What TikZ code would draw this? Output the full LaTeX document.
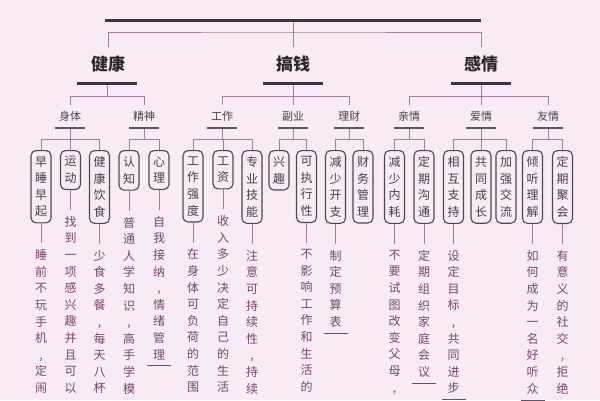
\documentclass[tikz,border=0pt]{standalone}
\usepackage{fontspec}
\setmainfont{Noto Sans CJK SC}
\usetikzlibrary{calc}
\definecolor{bgc}{HTML}{F8EBF6}
\definecolor{connc}{HTML}{A27E9E}
\definecolor{barc}{HTML}{3F3446}
\definecolor{lbarc}{HTML}{5E5560}
\definecolor{boxc}{HTML}{4D4652}
\definecolor{headc}{HTML}{2E2630}
\definecolor{catc}{HTML}{4A3D4C}
\definecolor{boxtc}{HTML}{4A3D4D}
\definecolor{coltc}{HTML}{7A4473}
\tikzset{
  conn/.style={draw=connc, line width=0.9pt},
  topbar/.style={fill=barc, minimum width=376pt, minimum height=3pt, inner sep=0pt},
  headbar/.style={fill=barc, minimum width=60pt, minimum height=3pt, inner sep=0pt},
  catbar/.style={fill=lbarc, minimum width=30pt, minimum height=1.2pt, inner sep=0pt},
  endline/.style={draw=lbarc, line width=1pt},
  heading/.style={font=\fontsize{17}{20}\selectfont\bfseries, text=headc, inner xsep=1pt, inner ysep=9pt},
  cat/.style={font=\fontsize{11}{13}\selectfont, text=catc, inner xsep=1pt, inner ysep=6pt},
  vbox/.style={draw=boxc, line width=1.1pt, rounded corners=5pt, minimum width=20pt, inner xsep=0pt, inner ysep=6pt, align=center, font=\fontsize{12}{16.6}\selectfont, text=boxtc, anchor=north},
  vtext/.style={align=center, font=\fontsize{12}{16.6}\selectfont, text=coltc, inner xsep=0pt, inner ysep=6pt, anchor=north}
}
\begin{document}
\begin{tikzpicture}[x=1pt,y=-1pt]
\fill[bgc] (0,0) rectangle (600,400);
\useasboundingbox (0,0) rectangle (600,400);
\clip (0,0) rectangle (600,400);
% top
\node[topbar] (tb) at (293,20) {};
\node[heading] (h1) at (108,64) {健康};
\node[heading] (h2) at (293,64) {搞钱};
\node[heading] (h3) at (481,64) {感情};
\coordinate (tj) at (293,32);
\draw[conn] (tb.south) -- (h2.north);
\draw[conn] (h1.north) |- (tj) -| (h3.north);
% heading bars
\node[headbar] (hb1) at (107,83) {};
\node[headbar] (hb2) at (293,83) {};
\node[headbar] (hb3) at (481,83) {};
% categories
\node[cat] (c1) at (70,116) {身体};
\node[cat] (c2) at (144,116) {精神};
\node[cat] (c3) at (222,116) {工作};
\node[cat] (c4) at (293,116) {副业};
\node[cat] (c5) at (349,116) {理财};
\node[cat] (c6) at (409,116) {亲情};
\node[cat] (c7) at (481,116) {爱情};
\node[cat] (c8) at (548,116) {友情};
\draw[conn] (hb1.south) -- ++(0,11.5) coordinate (j1);
\draw[conn] (c1.north) |- (j1) -| (c2.north);
\draw[conn] (hb2.south) -- ++(0,11.5) coordinate (j2);
\draw[conn] (c3.north) |- (j2) -| (c5.north);
\draw[conn] (j2) -- (c4.north);
\draw[conn] (hb3.south) -- ++(0,11.5) coordinate (j3);
\draw[conn] (c6.north) |- (j3) -| (c8.north);
\draw[conn] (j3) -- (c7.north);
% category bars
\node[catbar] (cb1) at (70,128) {};
\node[catbar] (cb2) at (144,128) {};
\node[catbar] (cb3) at (222,128) {};
\node[catbar] (cb4) at (293,128) {};
\node[catbar] (cb5) at (349,128) {};
\node[catbar] (cb6) at (409,128) {};
\node[catbar] (cb7) at (481,128) {};
\node[catbar] (cb8) at (548,128) {};
% boxes
\node[vbox] (b1) at (41,150) {早\\睡\\早\\起};
\node[vbox] (b2) at (70.5,150) {运\\动};
\node[vbox] (b3) at (99.5,150) {健\\康\\饮\\食};
\node[vbox] (b4) at (129,150) {认\\知};
\node[vbox] (b5) at (159,150) {心\\理};
\node[vbox] (b6) at (193,150) {工\\作\\强\\度};
\node[vbox] (b7) at (223,150) {工\\资};
\node[vbox] (b8) at (252,150) {专\\业\\技\\能};
\node[vbox] (b9) at (279,150) {兴\\趣};
\node[vbox] (b10) at (306.5,150) {可\\执\\行\\性};
\node[vbox] (b11) at (335.5,150) {减\\少\\开\\支};
\node[vbox] (b12) at (363,150) {财\\务\\管\\理};
\node[vbox] (b13) at (394.5,150) {减\\少\\内\\耗};
\node[vbox] (b14) at (424,150) {定\\期\\沟\\通};
\node[vbox] (b15) at (453.5,150) {相\\互\\支\\持};
\node[vbox] (b16) at (481,150) {共\\同\\成\\长};
\node[vbox] (b17) at (506,150) {加\\强\\交\\流};
\node[vbox] (b18) at (532.5,150) {倾\\听\\理\\解};
\node[vbox] (b19) at (562.5,150) {定\\期\\聚\\会};
% category -> boxes
\draw[conn] (cb1.south) -- ++(0,10.5) coordinate (k1);
\draw[conn] (b1.north) |- (k1) -| (b3.north);
\draw[conn] (k1 -| b2.north) -- (b2.north);
\draw[conn] (cb2.south) -- ++(0,10.5) coordinate (k2);
\draw[conn] (b4.north) |- (k2) -| (b5.north);
\draw[conn] (cb3.south) -- ++(0,10.5) coordinate (k3);
\draw[conn] (b6.north) |- (k3) -| (b8.north);
\draw[conn] (k3 -| b7.north) -- (b7.north);
\draw[conn] (cb4.south) -- ++(0,10.5) coordinate (k4);
\draw[conn] (b9.north) |- (k4) -| (b10.north);
\draw[conn] (cb5.south) -- ++(0,10.5) coordinate (k5);
\draw[conn] (b11.north) |- (k5) -| (b12.north);
\draw[conn] (cb6.south) -- ++(0,10.5) coordinate (k6);
\draw[conn] (b13.north) |- (k6) -| (b14.north);
\draw[conn] (cb7.south) -- ++(0,10.5) coordinate (k7);
\draw[conn] (b15.north) |- (k7) -| (b17.north);
\draw[conn] (k7 -| b16.north) -- (b16.north);
\draw[conn] (cb8.south) -- ++(0,10.5) coordinate (k8);
\draw[conn] (b18.north) |- (k8) -| (b19.north);
% text columns
\node[vtext] (t1) at ([yshift=-20pt]b1.south) {睡\\前\\不\\玩\\手\\机\\,\\定\\闹};
\node[vtext] (t2) at ([yshift=-20pt]b2.south) {找\\到\\一\\项\\感\\兴\\趣\\并\\且\\可\\以};
\node[vtext] (t3) at ([yshift=-20pt]b3.south) {少\\食\\多\\餐\\,\\每\\天\\八\\杯};
\node[vtext] (t4) at ([yshift=-20pt]b4.south) {普\\通\\人\\学\\知\\识\\,\\高\\手\\学\\模};
\node[vtext] (t5) at ([yshift=-20pt]b5.south) {自\\我\\接\\纳\\,\\情\\绪\\管\\理};
\node[vtext] (t6) at ([yshift=-20pt]b6.south) {在\\身\\体\\可\\负\\荷\\的\\范\\围};
\node[vtext] (t7) at ([yshift=-20pt]b7.south) {收\\入\\多\\少\\决\\定\\自\\己\\的\\生\\活};
\node[vtext] (t8) at ([yshift=-20pt]b8.south) {注\\意\\可\\持\\续\\性\\,\\持\\续};
\node[vtext] (t9) at ([yshift=-20pt]b10.south) {不\\影\\响\\工\\作\\和\\生\\活\\的};
\node[vtext] (t10) at ([yshift=-20pt]b11.south) {制\\定\\预\\算\\表};
\node[vtext] (t11) at ([yshift=-20pt]b13.south) {不\\要\\试\\图\\改\\变\\父\\母\\,};
\node[vtext] (t12) at ([yshift=-20pt]b14.south) {定\\期\\组\\织\\家\\庭\\会\\议};
\node[vtext] (t13) at ([yshift=-20pt]b15.south) {设\\定\\目\\标\\,\\共\\同\\进\\步};
\node[vtext] (t14) at ([yshift=-20pt]b18.south) {如\\何\\成\\为\\一\\名\\好\\听\\众};
\node[vtext] (t15) at ([yshift=-20pt]b19.south) {有\\意\\义\\的\\社\\交\\,\\拒\\绝};
\foreach \b/\t in {b1/t1,b2/t2,b3/t3,b4/t4,b5/t5,b6/t6,b7/t7,b8/t8,b10/t9,b11/t10,b13/t11,b14/t12,b15/t13,b18/t14,b19/t15}
  \draw[conn] (\b.south) -- (\t.north);
% end underlines
\foreach \t in {t5,t10,t12,t13,t14}
  \draw[endline] ([xshift=-12pt]\t.south) -- ([xshift=12pt]\t.south);
\end{tikzpicture}
\end{document}
